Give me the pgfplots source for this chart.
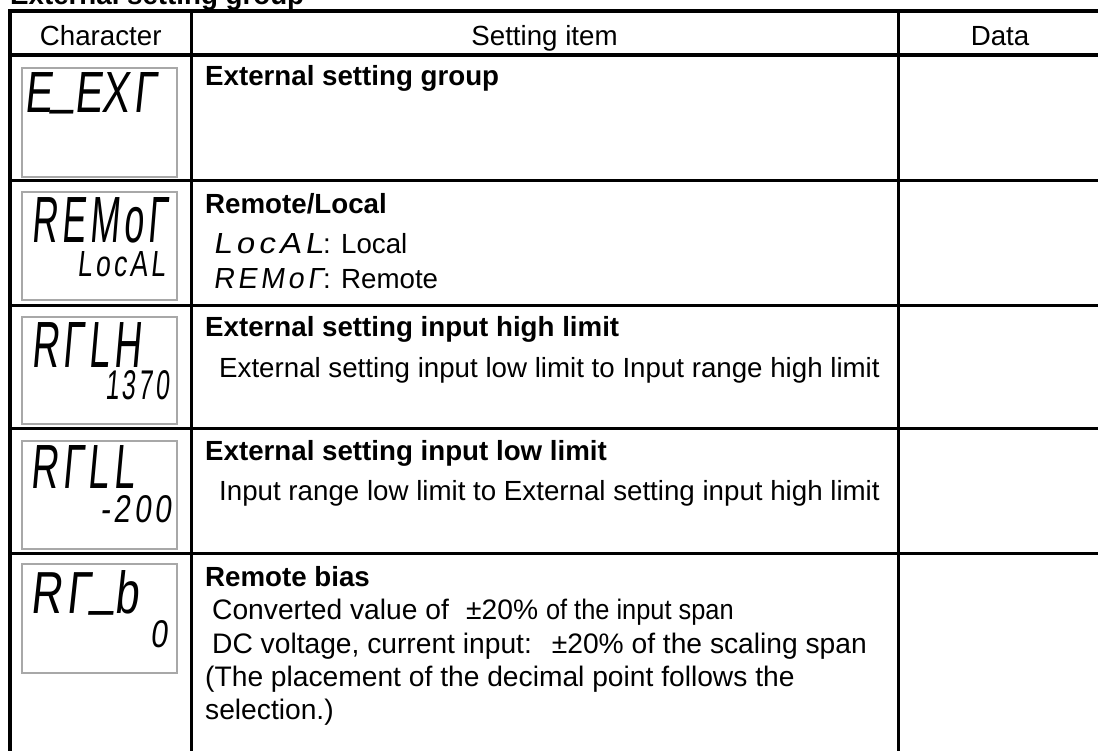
\documentclass[border=0pt]{standalone}
\usepackage{fontspec}
\usepackage{graphicx}
\setmainfont{Liberation Sans}
\newfontfamily\lcd{Liberation Sans}[FakeSlant=0.15,LetterSpace=12]
\newfontfamily\narrowf{Liberation Sans}[FakeStretch=0.9]
\usepackage{pgfplots}
\pgfplotsset{compat=1.18}
\definecolor{lcdgray}{HTML}{A8A8A8}
\newcommand\tx{\fontsize{27.7}{32}\selectfont}
\newcommand\txr{\fontsize{28.2}{32}\selectfont}
\newcommand\lcdB{\fontsize{56}{60}\selectfont\lcd}
\newcommand\us{\raisebox{0.16em}{\_}}
\newcommand\fwpm{\makebox[25pt][r]{±}}
% \lcdtext{width}{height}{text}
\newcommand\lcdtext[3]{\resizebox{#1}{#2}{\lcdB #3}}
\tikzset{tx/.style={anchor=base west,inner sep=0pt,font=\tx},
 tr/.style={anchor=base west,inner sep=0pt,font=\txr},
 tb/.style={anchor=base west,inner sep=0pt,font=\tx\bfseries},
 lc/.style={anchor=base west,inner sep=0pt}}
\begin{document}
\begin{tikzpicture}
\begin{axis}[width=1098pt,height=750pt,scale only axis,
 xmin=0,xmax=1098,ymin=0,ymax=750,y dir=reverse,
 hide axis, clip=false, no markers,
 every axis plot/.append style={line cap=rect}]
% thick outer lines
\addplot[black,line width=4pt] coordinates {(10.3,11.3) (10.3,770)};
\addplot[black,line width=4pt] coordinates {(10.3,11.3) (1120,11.3)};
\addplot[black,line width=4pt] coordinates {(10.3,55.3) (1120,55.3)};
% column dividers
\addplot[black,line width=2.8pt] coordinates {(191.3,11.3) (191.3,770)};
\addplot[black,line width=2.8pt] coordinates {(898.5,11.3) (898.5,770)};
% row separators
\addplot[black,line width=3pt] coordinates {(10.3,180.2) (1120,180.2)};
\addplot[black,line width=3pt] coordinates {(10.3,305.2) (1120,305.2)};
\addplot[black,line width=3pt] coordinates {(10.3,428.3) (1120,428.3)};
\addplot[black,line width=3pt] coordinates {(10.3,553.0) (1120,553.0)};
% LCD boxes
\addplot[lcdgray,line width=1.3pt,line join=miter] coordinates {(22,68) (177,68) (177,177) (22,177) (22,68)};
\addplot[lcdgray,line width=1.3pt,line join=miter] coordinates {(22,192) (177,192) (177,300) (22,300) (22,192)};
\addplot[lcdgray,line width=1.3pt,line join=miter] coordinates {(22,317) (177,317) (177,424) (22,424) (22,317)};
\addplot[lcdgray,line width=1.3pt,line join=miter] coordinates {(22,441) (177,441) (177,549) (22,549) (22,441)};
\addplot[lcdgray,line width=1.3pt,line join=miter] coordinates {(22,564) (177,564) (177,673) (22,673) (22,564)};
% title and header
\node[tb] at (axis cs:10,4.5) {External setting group};
\node[anchor=base,inner sep=0pt,font=\tx] at (axis cs:100.7,45) {Character};
\node[anchor=base,inner sep=0pt,font=\tx] at (axis cs:544.5,45) {Setting item};
\node[anchor=base,inner sep=0pt,font=\tx] at (axis cs:1000,45) {Data};
% LCD characters
\node[lc] at (axis cs:24,112) {\lcdtext{132pt}{40pt}{E\us E\kern-1pt XΓ}};
\node[lc] at (axis cs:31,242) {\lcdtext{136pt}{45pt}{REMoΓ}};
\node[lc] at (axis cs:77,276) {\lcdtext{88pt}{25pt}{LocAL}};
\node[lc] at (axis cs:31,367) {\lcdtext{110pt}{45pt}{RΓLH}};
\node[lc] at (axis cs:105,399) {\lcdtext{64pt}{29pt}{1370}};
\node[lc] at (axis cs:30,488) {\lcdtext{104pt}{43pt}{RΓLL}};
\node[lc] at (axis cs:100,522) {\lcdtext{71pt}{27pt}{-200}};
\node[lc] at (axis cs:30,613) {\lcdtext{108pt}{43pt}{RΓ\us b}};
\node[lc] at (axis cs:150,647) {\lcdtext{17pt}{27pt}{0}};
% row 1
\node[tb] at (axis cs:205,85) {External setting group};
% row 2
\node[tb] at (axis cs:205,213) {Remote/Local};
\node[lc] at (axis cs:213,253) {\resizebox{110pt}{20pt}{\fontsize{30}{32}\selectfont\lcd LocAL}};
\node[tx] at (axis cs:323,253) {: Local};
\node[lc] at (axis cs:213,288) {\resizebox{110pt}{20pt}{\fontsize{30}{32}\selectfont\lcd REMoΓ}};
\node[tx] at (axis cs:323,288) {: Remote};
% row 3
\node[tb] at (axis cs:205,336) {External setting input high limit};
\node[tx] at (axis cs:219,377) {External setting input low limit to Input range high limit};
% row 4
\node[tb] at (axis cs:205,460) {External setting input low limit};
\node[tx] at (axis cs:219,500) {Input range low limit to External setting input high limit};
% row 5
\node[tb] at (axis cs:205,586) {Remote bias};
\node[tr] at (axis cs:212,619) {Converted value of \fwpm20\% {\narrowf of the input span}};
\node[tr] at (axis cs:212,653) {DC voltage, current input: \fwpm20\% of the scaling span};
\node[tr] at (axis cs:205,686) {(The placement of the decimal point follows the};
\node[tr] at (axis cs:205,719) {selection.)};
\end{axis}
\pgfresetboundingbox
\path[use as bounding box] (current axis.south west) rectangle (current axis.north east);
\end{tikzpicture}
\end{document}
